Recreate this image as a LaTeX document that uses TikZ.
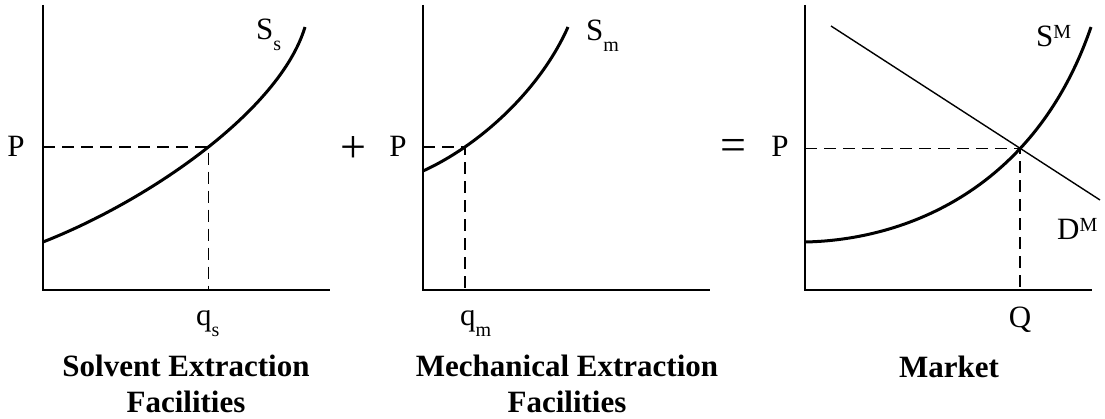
\documentclass[tikz,border=0pt]{standalone}
\usepackage{fontspec}
\setmainfont{Liberation Serif}
\usetikzlibrary{intersections}
\newcommand{\lsub}[1]{\raisebox{-11pt}{\fontsize{20}{22}\selectfont #1}}
\newcommand{\lsup}[1]{\raisebox{8pt}{\fontsize{20}{22}\selectfont #1}}
\begin{document}
\begin{tikzpicture}[x=1pt,y=-1pt,
  axis/.style={line width=2pt},
  supply/.style={line width=3pt},
  demand/.style={line width=1.4pt},
  guide/.style={line width=1.7pt,dash pattern=on 12pt off 7pt},
  lbl/.style={inner sep=0pt,font=\fontsize{31}{36}\selectfont},
  ttl/.style={inner sep=0pt,align=center,font=\fontsize{31}{36}\selectfont\bfseries},
  op/.style={inner sep=0pt,font=\fontsize{46}{52}\selectfont}]
\useasboundingbox (0,0) rectangle (1105,419);
% ---------- Panel 1 ----------
\coordinate (o1) at (43,290);
\coordinate (y1) at (43,5);
\coordinate (x1) at (330,290);
\draw[axis] (y1) -- (o1) -- (x1);
\draw[supply,name path=s1] (43,242) .. controls (150,200) and (280,110) .. (305,27);
\path[name path=h1] (43,147) -- (330,147);
\path[name intersections={of=s1 and h1,by=e1}];
\coordinate (a1) at (o1 |- e1);
\coordinate (b1) at (o1 -| e1);
\draw[guide] (a1) -- (e1) -- (b1);
\node[lbl,anchor=base] (P1) at (16,157) {P};
\node[lbl,anchor=base west] (S1) at (256,40) {S\lsub{s}};
\node[lbl,anchor=base west] (q1) at (196,326) {q\lsub{s}};
\node[ttl] (t1) at (186,384) {Solvent Extraction\\Facilities};
\node[op] (plus) at (353,150) {+};
% ---------- Panel 2 ----------
\coordinate (o2) at (423,290);
\coordinate (y2) at (423,5);
\coordinate (x2) at (710,290);
\draw[axis] (y2) -- (o2) -- (x2);
\draw[supply,name path=s2] (423,171) .. controls (480,145) and (540,90) .. (568,27);
\path[name path=h2] (423,147) -- (710,147);
\path[name intersections={of=s2 and h2,by=e2}];
\coordinate (a2) at (o2 |- e2);
\coordinate (b2) at (o2 -| e2);
\draw[guide] (a2) -- (e2) -- (b2);
\node[lbl,anchor=base] (P2) at (398,157) {P};
\node[lbl,anchor=base west] (S2) at (586,41) {S\lsub{m}};
\node[lbl,anchor=base west] (q2) at (460,326) {q\lsub{m}};
\node[ttl] (t2) at (567,384) {Mechanical Extraction\\Facilities};
\node[op] (eq) at (733,150) {=};
% ---------- Panel 3 ----------
\coordinate (o3) at (805,290);
\coordinate (y3) at (805,5);
\coordinate (x3) at (1092,290);
\draw[axis] (y3) -- (o3) -- (x3);
\coordinate (d0) at (831,26);
\coordinate (d1) at (1100,200);
\draw[demand,name path=dm] (d0) -- (d1);
\draw[supply,name path=s3] (805,242) .. controls (905,240) and (1035,190) .. (1091,27);
\path[name intersections={of=s3 and dm,by=e3}];
\coordinate (a3) at (o3 |- e3);
\coordinate (b3) at (o3 -| e3);
\draw[guide] (a3) -- (e3) -- (b3);
\node[lbl,anchor=base] (P3) at (780,157) {P};
\node[lbl,anchor=base west] (S3) at (1036,47) {S\lsup{M}};
\node[lbl,anchor=base west] (D3) at (1057,240) {D\lsup{M}};
\node[lbl,anchor=base] (Q3) at (1020,328) {Q};
\node[ttl] (t3) at (949,367) {Market};
\end{tikzpicture}
\end{document}
